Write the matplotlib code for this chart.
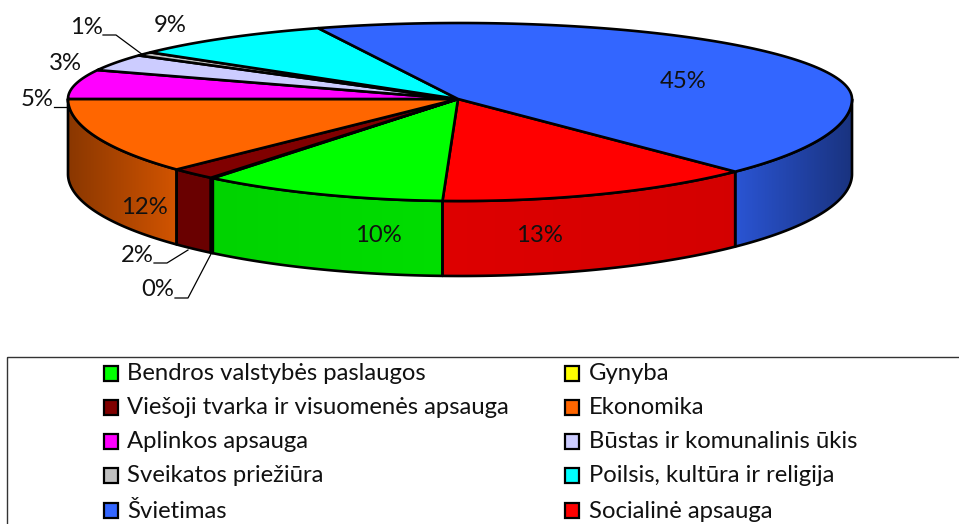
import numpy as np
import matplotlib
matplotlib.use('Agg')
import matplotlib.pyplot as plt
from matplotlib.patches import Polygon, Rectangle
from matplotlib.colors import to_rgb

plt.rcParams['font.family'] = ['Lato', 'DejaVu Sans']

# slices, clockwise from the blue/red edge at the front right
names = ['Socialinė apsauga', 'Bendros valstybės paslaugos', 'Gynyba',
         'Viešoji tvarka ir visuomenės apsauga', 'Ekonomika', 'Aplinkos apsauga',
         'Būstas ir komunalinis ūkis', 'Sveikatos priežiūra',
         'Poilsis, kultūra ir religija', 'Švietimas']
# shares as drawn on the disc (perspective makes them differ a bit from the labels)
shares = [13.1, 10.15, 0.1, 1.9, 12.15, 6.2, 3.5, 0.8, 8.6, 43.5]
colors = ['#ff0000', '#00ff00', '#ffff00', '#800000', '#ff6600', '#ff00ff',
          '#ccccff', '#c0c0c0', '#00ffff', '#3366ff']
start_angle = -45.4

pct_labels = ['13%', '10%', '0%', '2%', '12%', '5%', '3%', '1%', '9%', '45%']
label_pos = [(539, 235), (378, 235), (158, 290), (137, 255), (144, 208),
             (37, 99), (65, 63), (86, 28), (170, 25), (683, 82)]

# legend order, two columns
legend_left = ['Bendros valstybės paslaugos', 'Viešoji tvarka ir visuomenės apsauga',
               'Aplinkos apsauga', 'Sveikatos priežiūra', 'Švietimas']
legend_right = ['Gynyba', 'Ekonomika', 'Būstas ir komunalinis ūkis',
                'Poilsis, kultūra ir religija', 'Socialinė apsauga']
legend_rows = [373, 407, 441, 475, 510]

# pie geometry in pixels
cx, cy = 460, 99
rx = 392
ry_back, ry_front = 76, 102
depth = 75
lw = 1.9
font_size = 17.2


def rim(theta):
    t = np.radians(theta)
    s = np.sin(t)
    ry = np.where(s > 0, ry_back, ry_front)
    return cx + rx * np.cos(t), cy - ry * s


def shade(x):
    return np.interp(x, [68, 176, 442, 735, 852], [0.54, 0.82, 0.87, 0.83, 0.5])


fig = plt.figure(figsize=(9.59, 5.24), dpi=100)
ax = fig.add_axes([0, 0, 1, 1])

shares = np.array(shares)
edges = start_angle - np.concatenate([[0], np.cumsum(shares)]) * 360 / shares.sum()

# walls of the front half, the last slice wraps round past -360
for i, c in enumerate(colors):
    for turn in (0, 360):
        a1 = max(edges[i + 1] + turn, -180)
        a2 = min(edges[i] + turn, 0)
        if a2 <= a1:
            continue
        th = np.linspace(a1, a2, 80)
        x, y = rim(th)
        px = np.r_[x, x[::-1]]
        py = np.r_[y, y[::-1] + depth]
        wall = Polygon(np.c_[px, py], closed=True, facecolor='none', edgecolor='none')
        ax.add_patch(wall)
        xs = np.arange(int(x.min()) - 1, int(x.max()) + 2)
        grad = np.outer(shade(xs), to_rgb(c))[None, :, :]
        im = ax.imshow(grad, extent=(xs[0], xs[-1], py.max() + 1, py.min() - 1),
                       aspect='auto', interpolation='bilinear', zorder=1)
        im.set_clip_path(wall)
        ax.add_patch(Polygon(np.c_[px, py], closed=True, facecolor='none', edgecolor='black',
                             linewidth=lw, joinstyle='round', zorder=2))

# top of the disc
for i, c in enumerate(colors):
    th = np.linspace(edges[i], edges[i + 1], 120)
    x, y = rim(th)
    ax.add_patch(Polygon(np.c_[np.r_[cx - 2, x], np.r_[cy, y]], closed=True, facecolor=c,
                         edgecolor='black', linewidth=lw, joinstyle='round', zorder=3))

# leader lines
leaders = [[(103, 35), (116, 35), (143, 55)], [(54, 107), (68, 107)],
           [(154, 263), (167, 263), (188, 250)], [(175, 298), (188, 298), (211, 254)]]
for pts in leaders:
    ax.plot(*zip(*pts), color='black', linewidth=0.9, zorder=4)

for txt, (x, y) in zip(pct_labels, label_pos):
    ax.text(x, y, txt, fontsize=font_size, ha='center', va='center', color='#111111', zorder=5)

# legend box runs off the picture at the right and bottom
ax.add_patch(Rectangle((7, 357), 1000, 300, facecolor='none', edgecolor='#333333', linewidth=1))
color_of = dict(zip(names, colors))
for col, sq_x, txt_x in [(legend_left, 104, 127), (legend_right, 565, 589)]:
    for name, y in zip(col, legend_rows):
        ax.add_patch(Rectangle((sq_x, y - 7), 14, 15, facecolor=color_of[name],
                               edgecolor='black', linewidth=1.6))
        ax.text(txt_x, y + 1, name, fontsize=font_size, ha='left', va='center', color='#111111')

ax.set_xlim(0, 959)
ax.set_ylim(524, 0)
ax.axis('off')

fig.savefig('out.png', dpi=100)
